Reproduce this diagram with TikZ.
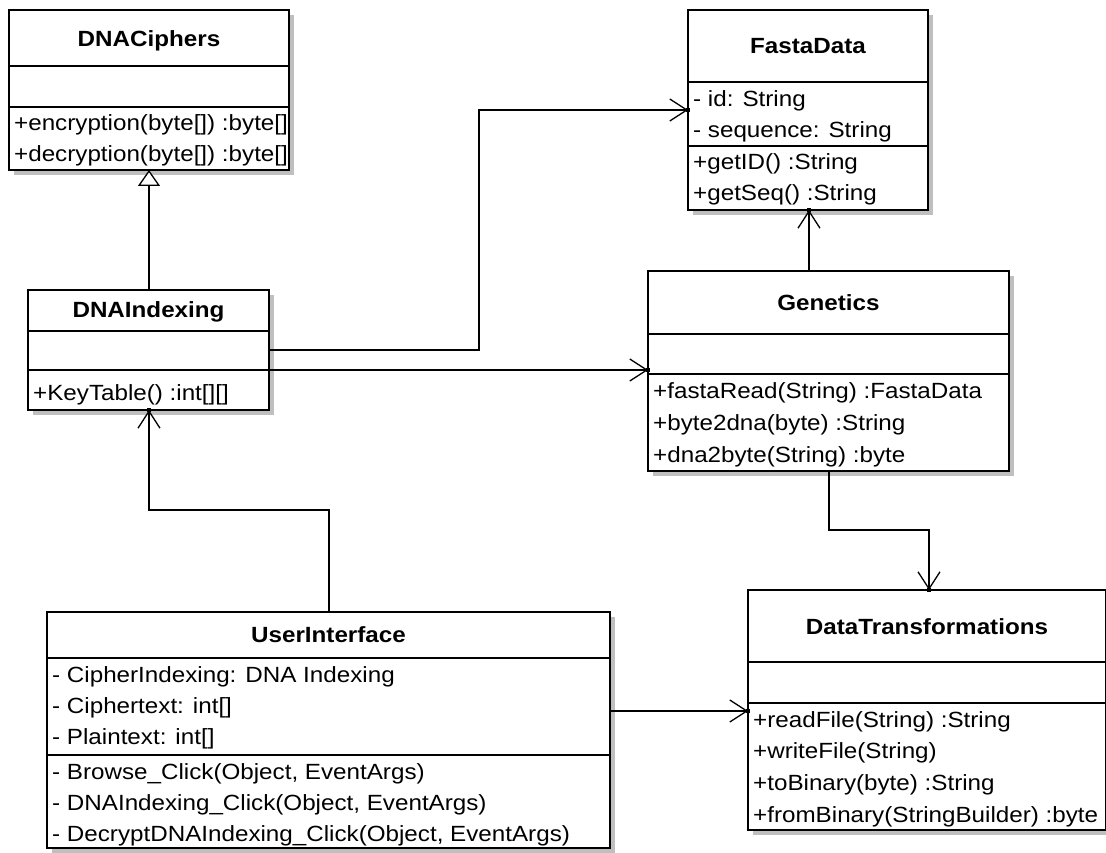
\documentclass[tikz,border=0pt]{standalone}
\usepackage{fontspec}
\setmainfont{Liberation Sans}[FakeStretch=1.1]
\usetikzlibrary{arrows.meta,shadows}
\tikzset{
  classbox/.style={draw=black, line width=1.6pt, fill=white, inner sep=0pt, outer sep=0pt,
    drop shadow={shadow xshift=5pt, shadow yshift=-5pt, fill=black!25, opacity=1}},
  sepline/.style={line width=1.6pt, draw=black},
  mtext/.style={inner sep=0pt, anchor=base west, font=\fontsize{22pt}{26pt}\selectfont},
  ttext/.style={inner sep=0pt, anchor=base, font=\fontsize{22pt}{26pt}\selectfont\bfseries},
  assoc/.style={line width=1.6pt, -{Straight Barb[length=17pt, width=22pt, line width=1.3pt]}},
  realize/.style={line width=1.6pt, -{Triangle[open, length=16pt, width=22pt, line width=1.3pt, fill=white]}},
  tipdot/.style={fill=black, inner sep=0pt, minimum size=4pt, draw=none},
}
\newcommand{\umlbox}[5]{%
  \node[classbox, minimum width={#4-#2}, minimum height={#5-#3}, anchor=north west] (#1) at (#2,#3) {};}
\begin{document}
\begin{tikzpicture}[x=1pt, y=-1pt]
\clip (0,0) rectangle (1106,853);
\fill[white] (0,0) rectangle (1106,853);

% ---- DNACiphers
\umlbox{dnac}{9}{10}{289}{170}
\draw[sepline] (9,66) -- (289,66);
\draw[sepline] (9,107) -- (289,107);
\node[ttext] (dnacT) at (149,47) {DNACiphers};
\node[mtext] (dnacM1) at (14,131) {+encryption(byte[]) :byte[]};
\node[mtext] (dnacM2) at (14,162) {+decryption(byte[]) :byte[]};

% ---- FastaData
\umlbox{fasta}{688}{10}{928}{210}
\draw[sepline] (688,82) -- (928,82);
\draw[sepline] (688,146) -- (928,146);
\node[ttext] (fastaT) at (808,54) {FastaData};
\node[mtext] (fastaA1) at (693,107) {- id: String};
\node[mtext] (fastaA2) at (693,138) {- sequence: String};
\node[mtext] (fastaM1) at (693,170) {+getID() :String};
\node[mtext] (fastaM2) at (693,201) {+getSeq() :String};

% ---- DNAIndexing
\umlbox{dnai}{28}{290}{269}{410}
\draw[sepline] (28,331) -- (269,331);
\draw[sepline] (28,370) -- (269,370);
\node[ttext] (dnaiT) at (148.5,317) {DNAIndexing};
\node[mtext] (dnaiM1) at (33,400) {+KeyTable() :int[][]};

% ---- Genetics
\umlbox{gen}{648}{271}{1009}{471}
\draw[sepline] (648,334) -- (1009,334);
\draw[sepline] (648,374) -- (1009,374);
\node[ttext] (genT) at (828.5,310) {Genetics};
\node[mtext] (genM1) at (653,398) {+fastaRead(String) :FastaData};
\node[mtext] (genM2) at (653,430) {+byte2dna(byte) :String};
\node[mtext] (genM3) at (653,462) {+dna2byte(String) :byte};

% ---- DataTransformations
\umlbox{dt}{748}{590}{1106}{830}
\draw[sepline] (748,662) -- (1106,662);
\draw[sepline] (748,703) -- (1106,703);
\node[ttext] (dtT) at (927,634) {DataTransformations};
\node[mtext] (dtM1) at (753,727) {+readFile(String) :String};
\node[mtext] (dtM2) at (753,758) {+writeFile(String)};
\node[mtext] (dtM3) at (753,790) {+toBinary(byte) :String};
\node[mtext] (dtM4) at (753,822) {+fromBinary(StringBuilder) :byte};

% ---- UserInterface
\umlbox{ui}{47}{612}{610}{848}
\draw[sepline] (47,658) -- (610,658);
\draw[sepline] (47,755) -- (610,755);
\node[ttext] (uiT) at (328.5,642) {UserInterface};
\node[mtext] (uiA1) at (52,682) {- CipherIndexing: DNA Indexing};
\node[mtext] (uiA2) at (52,713) {- Ciphertext: int[]};
\node[mtext] (uiA3) at (52,744) {- Plaintext: int[]};
\node[mtext] (uiM1) at (52,779) {- Browse\_Click(Object, EventArgs)};
\node[mtext] (uiM2) at (52,810) {- DNAIndexing\_Click(Object, EventArgs)};
\node[mtext] (uiM3) at (52,841) {- DecryptDNAIndexing\_Click(Object, EventArgs)};

% ---- routing coordinates
\coordinate (xa) at (149,0);
\coordinate (b1) at (479,350);
\coordinate (b2) at (479,110);
\coordinate (yb) at (0,370);
\coordinate (xc) at (809,0);
\coordinate (b3) at (829,530);
\coordinate (b4) at (929,530);
\coordinate (b5) at (329,510);
\coordinate (b6) at (149,510);
\coordinate (yd) at (0,711);

% ---- connectors
\draw[realize] (dnai.north -| xa) -- (dnac.south -| xa);
\draw[assoc] (dnai.east |- b1) -- (b1) -- (b2) -- (fasta.west |- b2);
\draw[assoc] (dnai.east |- yb) -- (gen.west |- yb);
\draw[assoc] (gen.north -| xc) -- (fasta.south -| xc);
\draw[assoc] (gen.south -| b3) -- (b3) -- (b4) -- (dt.north -| b4);
\draw[assoc] (ui.north -| b5) -- (b5) -- (b6) -- (dnai.south -| b6);
\draw[assoc] (ui.east |- yd) -- (dt.west |- yd);

% ---- small dots at the arrow tips
\node[tipdot] (d1) at (fasta.west |- b2) {};
\node[tipdot] (d2) at (gen.west |- yb) {};
\node[tipdot] (d3) at (fasta.south -| xc) {};
\node[tipdot] (d4) at (dt.north -| b4) {};
\node[tipdot] (d5) at (dnai.south -| b6) {};
\node[tipdot] (d6) at (dt.west |- yd) {};
\end{tikzpicture}
\end{document}
